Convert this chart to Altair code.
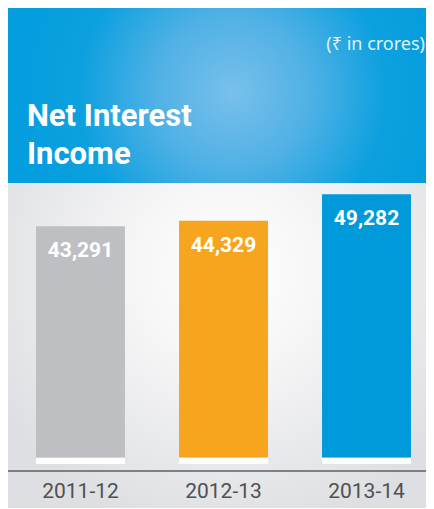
import altair as alt
import pandas as pd

# ---- data ----
years = ["2011-12", "2012-13", "2013-14"]
values = [43291, 44329, 49282]
labels = ["43,291", "44,329", "49,282"]
colors = ["#bebfc3", "#f7a51e", "#0099da"]

title_lines = ["Net Interest", "Income"]
unit_text = "(₹ in crores)"

df = pd.DataFrame({"year": years, "value": values, "label": labels, "color": colors})
one = pd.DataFrame({"k": [0]})
titles = pd.DataFrame({"t": title_lines, "i": [0, 1]})

W, H = 418, 500
S = 440  # square size for gradient boxes

xscale = alt.Scale(domain=years, range=[1, 430], paddingInner=0.378, paddingOuter=0.189)
yscale = alt.Scale(domain=[0, 50000], range=[449.5, 182.5])

blue_grad = {
    "gradient": "radial",
    "x1": 0.51, "y1": 0.5, "r1": 0,
    "x2": 0.51, "y2": 0.5, "r2": 0.5,
    "stops": [
        {"offset": 0, "color": "#78c0ea"},
        {"offset": 0.35, "color": "#50b1e5"},
        {"offset": 0.7, "color": "#0ca0df"},
        {"offset": 1, "color": "#049dde"},
    ],
}
gray_grad = {
    "gradient": "radial",
    "x1": 0.5, "y1": 0.2, "r1": 0,
    "x2": 0.5, "y2": 0.2, "r2": 0.6,
    "stops": [
        {"offset": 0, "color": "#ffffff"},
        {"offset": 0.35, "color": "#f6f6f7"},
        {"offset": 0.75, "color": "#e7e8ea"},
        {"offset": 1, "color": "#dedfe2"},
    ],
}

header = alt.Chart(one).mark_rect(fill=blue_grad).encode(
    x=alt.value(0), x2=alt.value(S), y=alt.value(84 - S / 2), y2=alt.value(84 + S / 2)
)
panel = alt.Chart(one).mark_rect(fill=gray_grad).encode(
    x=alt.value(0), x2=alt.value(S), y=alt.value(175), y2=alt.value(175 + S)
)

x_enc = alt.X("year:N", scale=xscale, axis=None)

bars = alt.Chart(df).mark_bar().encode(
    x=x_enc,
    y=alt.Y("value:Q", scale=yscale, axis=None),
    y2=alt.datum(0),
    color=alt.Color("color:N", scale=None),
)
strips = alt.Chart(df).mark_bar(color="#ffffff").encode(
    x=x_enc, y=alt.value(450), y2=alt.value(456)
)
baseline = alt.Chart(one).mark_rule(color="#5f5f61", strokeWidth=1.5).encode(
    x=alt.value(0), x2=alt.value(W), y=alt.value(463)
)
bar_labels = alt.Chart(df).mark_text(
    font="Roboto", fontWeight="bold", fontSize=21, color="#ffffff",
    baseline="alphabetic", dy=31,
).encode(x=x_enc, y=alt.Y("value:Q", scale=yscale, axis=None), text="label:N")

x_labels = alt.Chart(df).mark_text(
    font="Roboto", fontSize=21, color="#505052", baseline="alphabetic"
).encode(x=x_enc, y=alt.value(490), text="year:N")

title = alt.Chart(titles).mark_text(
    font="Roboto", fontWeight="bold", fontSize=31, color="#ffffff",
    align="left", baseline="alphabetic",
).encode(
    x=alt.value(19),
    y=alt.Y("i:Q", scale=alt.Scale(domain=[0, 1], range=[118, 156]), axis=None),
    text="t:N",
)
unit = alt.Chart(one).mark_text(
    font="Noto Sans", fontSize=18, color="#e2f1fb", align="right", baseline="alphabetic",
    text=unit_text,
).encode(x=alt.value(417), y=alt.value(42))

chart = alt.layer(
    header, panel, bars, strips, baseline, bar_labels, x_labels, title, unit
).properties(
    width=W, height=H, padding=0, autosize=alt.AutoSizeParams(type="none")
).configure_view(stroke=None).resolve_scale(y="independent")

chart.save("out.html", embed_options={"renderer": "svg", "actions": False})
